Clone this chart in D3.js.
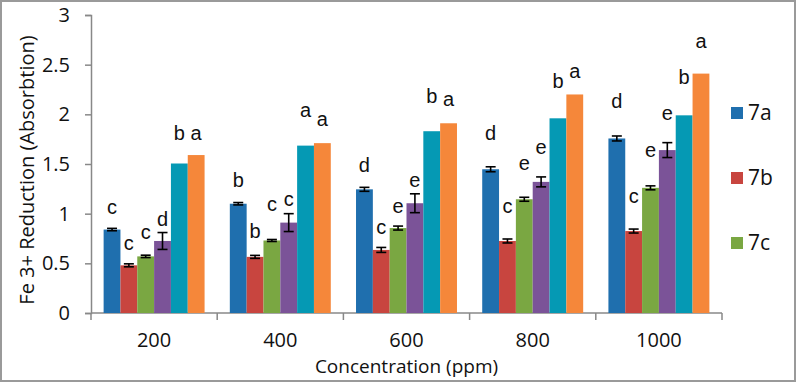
<!DOCTYPE html>
<html>
<head>
<meta charset="utf-8">
<script src="https://cdn.jsdelivr.net/npm/d3@7"></script>
<style>
  body { margin: 0; background: #fff; }
  svg { display: block; }
  text { font-family: "Open Sans", "Liberation Sans", sans-serif; fill: #111; }
</style>
</head>
<body>
<div id="chart"></div>
<script>
// chart data
const categories = ["200", "400", "600", "800", "1000"];
const seriesNames = ["7a", "7b", "7c", "7d", "7e", "7f"];
const legendNames = ["7a", "7b", "7c"]; // only these appear in the legend
const colors = ["#1f6fae", "#c8453f", "#7aa742", "#7b5398", "#0599b4", "#f5873a"];

// values per series, one per concentration
const values = [
    [0.84, 1.10, 1.245, 1.447, 1.757],
    [0.48, 0.565, 0.635, 0.725, 0.825],
    [0.57, 0.73, 0.855, 1.145, 1.26],
    [0.725, 0.91, 1.105, 1.32, 1.64],
    [1.505, 1.685, 1.83, 1.96, 1.99],
    [1.59, 1.71, 1.91, 2.20, 2.41]
];
// error bars (+/-), 0 = none
const errors = [
    [0.012, 0.012, 0.02, 0.025, 0.025],
    [0.015, 0.015, 0.025, 0.02, 0.02],
    [0.012, 0.01, 0.02, 0.02, 0.02],
    [0.085, 0.09, 0.095, 0.05, 0.075],
    [0, 0, 0, 0, 0],
    [0, 0, 0, 0, 0]
];
// significance letters and the height (in data units) where each sits
const letters = [
    ["c", "b", "d", "d", "d"],
    ["c", "b", "c", "c", "c"],
    ["c", "c", "e", "e", "e"],
    ["d", "c", "e", "e", "e"],
    ["b", "a", "b", "b", "b"],
    ["a", "a", "a", "a", "a"]
];
const letterAt = [
    [1.00, 1.27, 1.42, 1.74, 2.06],
    [0.63, 0.76, 0.80, 1.01, 1.11],
    [0.74, 1.03, 1.01, 1.44, 1.57],
    [0.88, 1.08, 1.27, 1.60, 1.94],
    [1.74, 1.97, 2.11, 2.27, 2.31],
    [1.74, 1.88, 2.08, 2.37, 2.67]
];
const yTicks = [0, 0.5, 1, 1.5, 2, 2.5, 3];

const width = 796, height = 382;
const margin = { top: 15, right: 74, bottom: 69, left: 91 };
const innerW = width - margin.left - margin.right;
const innerH = height - margin.top - margin.bottom;

const svg = d3.select("#chart").append("svg")
    .attr("width", width)
    .attr("height", height);

// outer frame
svg.append("rect")
    .attr("x", 1).attr("y", 1)
    .attr("width", width - 2).attr("height", height - 2)
    .attr("fill", "none")
    .attr("stroke", "#9a9a9a")
    .attr("stroke-width", 2);

const g = svg.append("g").attr("transform", `translate(${margin.left},${margin.top})`);

const x0 = d3.scaleBand().domain(categories).range([0, innerW]).paddingInner(0.2).paddingOuter(0.1);
const x1 = d3.scaleBand().domain(seriesNames).range([0, x0.bandwidth()]);
const y = d3.scaleLinear().domain([0, 3]).range([innerH, 0]);

// y axis
const yAxis = g.append("g")
    .call(d3.axisLeft(y).tickValues(yTicks).tickFormat(d3.format("~g")).tickSize(6).tickPadding(15));
yAxis.selectAll("text").style("font-size", "20px");
yAxis.select(".domain").attr("stroke", "#888").attr("stroke-width", 1.5);
yAxis.selectAll(".tick line").attr("stroke", "#888").attr("stroke-width", 1.5);

// x axis with ticks at category boundaries
const step = innerW / categories.length;
const xAxis = g.append("g").attr("transform", `translate(0,${innerH})`);
xAxis.append("line")
    .attr("x1", 0).attr("x2", innerW)
    .attr("stroke", "#888").attr("stroke-width", 1.5);
xAxis.selectAll(".bt")
    .data(d3.range(categories.length + 1))
    .join("line")
    .attr("x1", d => d * step).attr("x2", d => d * step)
    .attr("y1", 0).attr("y2", 7)
    .attr("stroke", "#888").attr("stroke-width", 1.5);
xAxis.selectAll(".cl")
    .data(categories)
    .join("text")
    .attr("x", d => x0(d) + x0.bandwidth() / 2)
    .attr("y", 34)
    .attr("text-anchor", "middle")
    .style("font-size", "20px")
    .text(d => d);

// bars
const rows = [];
seriesNames.forEach((s, si) => {
    categories.forEach((c, ci) => {
        rows.push({ s, si, c, v: values[si][ci], e: errors[si][ci], l: letters[si][ci], la: letterAt[si][ci] });
    });
});

g.selectAll(".bar")
    .data(rows)
    .join("rect")
    .attr("class", "bar")
    .attr("x", d => x0(d.c) + x1(d.s))
    .attr("y", d => y(d.v))
    .attr("width", x1.bandwidth())
    .attr("height", d => innerH - y(d.v))
    .attr("fill", d => colors[d.si]);

// error bars
const errRows = rows.filter(d => d.e > 0);
const eg = g.selectAll(".err").data(errRows).join("g").attr("class", "err")
    .attr("transform", d => `translate(${x0(d.c) + x1(d.s) + x1.bandwidth() / 2},0)`);
eg.append("line")
    .attr("y1", d => y(d.v + d.e)).attr("y2", d => y(d.v - d.e))
    .attr("stroke", "#000").attr("stroke-width", 1.6);
eg.append("line")
    .attr("x1", -5).attr("x2", 5)
    .attr("y1", d => y(d.v + d.e)).attr("y2", d => y(d.v + d.e))
    .attr("stroke", "#000").attr("stroke-width", 1.6);
eg.append("line")
    .attr("x1", -5).attr("x2", 5)
    .attr("y1", d => y(d.v - d.e)).attr("y2", d => y(d.v - d.e))
    .attr("stroke", "#000").attr("stroke-width", 1.6);

// letters
g.selectAll(".letter")
    .data(rows)
    .join("text")
    .attr("class", "letter")
    .attr("x", d => x0(d.c) + x1(d.s) + x1.bandwidth() / 2)
    .attr("y", d => y(d.la))
    .attr("text-anchor", "middle")
    .style("font-size", "20px")
    .style("font-family", "'Liberation Sans', Arial, sans-serif")
    .text(d => d.l);

// axis titles
svg.append("text")
    .attr("transform", `translate(34,${margin.top + innerH / 2 + 6}) rotate(-90)`)
    .attr("text-anchor", "middle")
    .style("font-size", "20px")
    .text("Fe 3+ Reduction (Absorbtion)");

svg.append("text")
    .attr("x", margin.left + innerW / 2)
    .attr("y", 373)
    .attr("text-anchor", "middle")
    .style("font-size", "19px")
    .text("Concentration (ppm)");

// legend
const legend = svg.append("g").attr("transform", "translate(731,107)");
const li = legend.selectAll("g").data(legendNames).join("g")
    .attr("transform", (d, i) => `translate(0,${i * 65})`);
li.append("rect")
    .attr("width", 12).attr("height", 12)
    .attr("fill", (d, i) => colors[i]);
li.append("text")
    .attr("x", 17).attr("y", 13)
    .style("font-size", "21px")
    .text(d => d);
</script>
</body>
</html>
